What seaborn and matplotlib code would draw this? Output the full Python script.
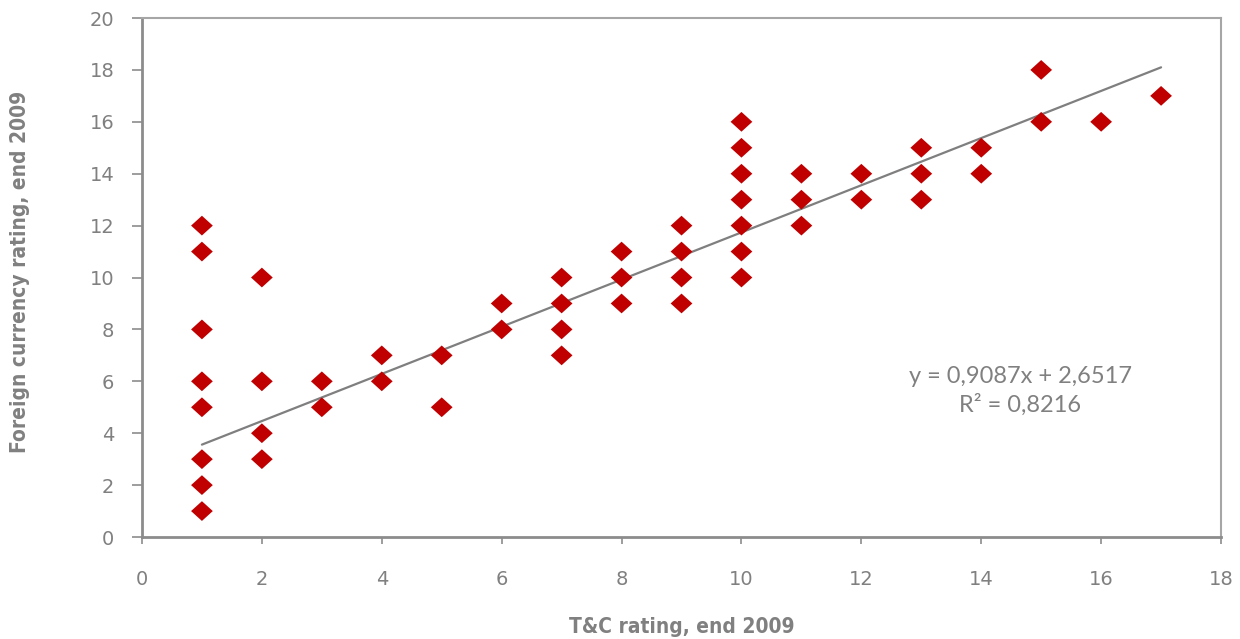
import matplotlib
matplotlib.use("Agg")
import matplotlib.pyplot as plt
import seaborn as sns
import numpy as np
import pandas as pd

# Data
tc_rating = [1, 1, 1, 1, 1, 1, 1, 1,
             2, 2, 2, 2,
             3, 3,
             4, 4,
             5, 5,
             6, 6,
             7, 7, 7, 7,
             8, 8, 8,
             9, 9, 9, 9,
             10, 10, 10, 10, 10, 10, 10,
             11, 11, 11,
             12, 12,
             13, 13, 13,
             14, 14,
             15, 15,
             16,
             17]
fc_rating = [1, 2, 3, 5, 6, 8, 11, 12,
             3, 4, 6, 10,
             5, 6,
             6, 7,
             5, 7,
             8, 9,
             7, 8, 9, 10,
             9, 10, 11,
             9, 10, 11, 12,
             10, 11, 12, 13, 14, 15, 16,
             12, 13, 14,
             13, 14,
             13, 14, 15,
             14, 15,
             16, 18,
             16,
             17]

slope = 0.9087
intercept = 2.6517
r_squared = 0.8216

x_ticks = [0, 2, 4, 6, 8, 10, 12, 14, 16, 18]
y_ticks = [0, 2, 4, 6, 8, 10, 12, 14, 16, 18, 20]

sns.set_theme(style="white")
plt.rcParams['font.family'] = ['DejaVu Sans']

GRAY = "#808080"
SPINE = "#8c8c8c"
RED = "#C00000"
EQ_FONT = ['Lato', 'DejaVu Sans']

fig = plt.figure(figsize=(12.4, 6.39), dpi=100)
ax = fig.add_axes([0.1145, 0.1596, 0.8702, 0.8122])

df = pd.DataFrame({"tc": tc_rating, "fc": fc_rating})
diamond = [(-1.1, 0), (0, 1), (1.1, 0), (0, -1), (-1.1, 0)]
sns.scatterplot(data=df, x="tc", y="fc", marker=diamond, s=245, color=RED,
                edgecolor="none", linewidth=0, ax=ax, zorder=3)

# Linear trend line over the range of the data
x_fit = np.array([min(tc_rating), max(tc_rating)])
trend = pd.DataFrame({"x": x_fit, "y": slope * x_fit + intercept})
sns.lineplot(data=trend, x="x", y="y", color="#7f7f7f", linewidth=1.6, ax=ax, zorder=2)

ax.set_xlim(0, 18)
ax.set_ylim(0, 20)
ax.set_xticks(x_ticks)
ax.set_yticks(y_ticks)
ax.set_xticklabels([str(v) for v in x_ticks], fontsize=14, color=GRAY)
ax.set_yticklabels([str(v) for v in y_ticks], fontsize=14, color=GRAY)

ax.tick_params(axis='x', direction='out', length=5, width=1.2, color=SPINE, pad=18.5, bottom=True)
ax.tick_params(axis='y', direction='out', length=7, width=1.2, color=SPINE, pad=13, left=True)

for side in ['left', 'bottom']:
    ax.spines[side].set_color(SPINE)
    ax.spines[side].set_linewidth(2)
for side in ['top', 'right']:
    ax.spines[side].set_color("#a6a6a6")
    ax.spines[side].set_linewidth(1.5)
ax.grid(False)

ax.set_xlabel("T&C rating, end 2009", fontsize=15, fontweight='bold', color=GRAY,
              family=['DejaVu Sans'], fontstretch='condensed', va='center')
ax.set_ylabel("Foreign currency rating, end 2009", fontsize=15, fontweight='bold', color=GRAY,
              family=['DejaVu Sans'], fontstretch='condensed', va='center')
ax.xaxis.set_label_coords(0.5, -0.173)
ax.yaxis.set_label_coords(-0.113, 0.51)

eq_text = "y = {:.4f}x + {:.4f}".format(slope, intercept).replace('.', ',')
r2_text = "R² = {:.4f}".format(r_squared).replace('.', ',')
ax.text(14.65, 6.17, eq_text, ha='center', va='center', fontsize=17, color=GRAY,
        family=EQ_FONT)
ax.text(14.65, 5.1, r2_text, ha='center', va='center', fontsize=17, color=GRAY,
        family=EQ_FONT)

fig.savefig("out.png", dpi=100, facecolor="white")
